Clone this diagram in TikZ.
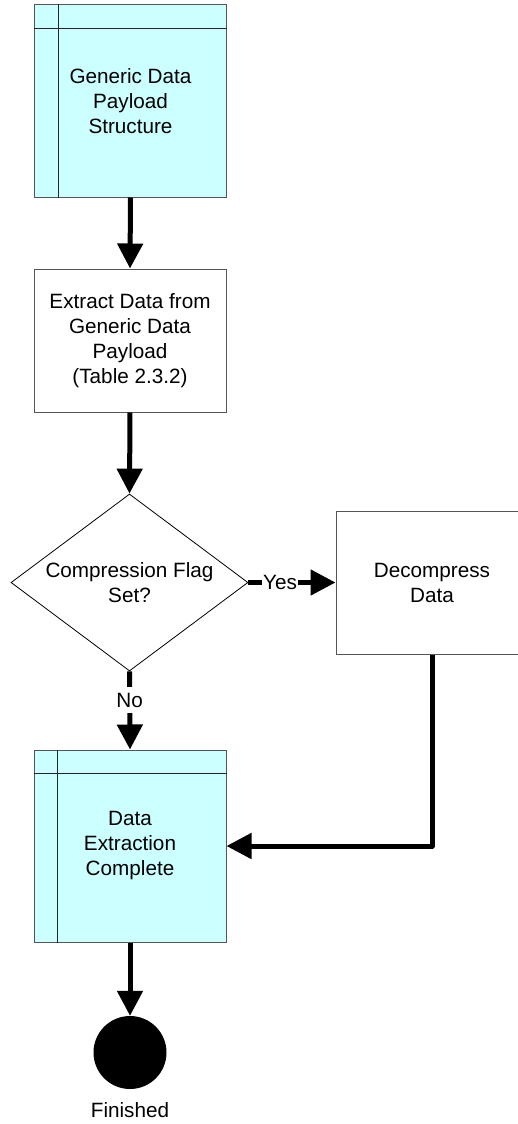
\documentclass[tikz,border=0pt]{standalone}
\usepackage{fontspec}
\setmainfont{Liberation Sans}
\usetikzlibrary{arrows.meta,shapes.geometric,calc}
\definecolor{lanefill}{HTML}{CCFFFF}
\definecolor{edgegray}{HTML}{555555}
\tikzset{
  txt/.style={font=\fontsize{20.7}{25}\selectfont, align=center, inner sep=0pt},
  procbox/.style={txt, draw=edgegray, line width=1pt, minimum width=192pt, minimum height=143pt},
  lanebox/.style={txt, draw=edgegray, line width=1pt, fill=lanefill, minimum width=192pt, minimum height=192pt},
  decision/.style={diamond, draw=black, line width=0.8pt, inner sep=0pt, minimum width=237pt, minimum height=177pt},
  endstate/.style={circle, fill=black, inner sep=0pt, minimum size=73pt},
  flow/.style={line width=5pt, -{Triangle[length=25pt,width=25pt]}, line join=round},
  lbl/.style={txt, fill=white, inner xsep=1pt, inner ysep=6pt},
  laneline/.style={draw=black!85, line width=0.8pt}
}
\begin{document}
\begin{tikzpicture}[x=1pt,y=-1pt]
  \clip (0,0) rectangle (518,1124);
  \fill[white] (0,0) rectangle (518,1124);

  % nodes
  \node[lanebox] (payload) at (130.5,101) {Generic Data\\Payload\\Structure};
  \draw[laneline] ([xshift=24pt]payload.north west) -- ([xshift=24pt]payload.south west);
  \draw[laneline] ([yshift=-24pt]payload.north west) -- ([yshift=-24pt]payload.north east);

  \node[procbox] (extract) at (130,340.5) {Extract Data from\\Generic Data\\Payload\\(Table 2.3.2)};

  \node[decision] (flag) at (129.5,582.5) {};
  \node[txt] (flagtext) at (flag) {Compression Flag\\Set?};

  \node[procbox] (decomp) at (432,582.5) {Decompress\\Data};

  \node[lanebox] (complete) at (130,846) {Data\\Extraction\\Complete};
  \draw[laneline] ([xshift=24pt]complete.north west) -- ([xshift=24pt]complete.south west);
  \draw[laneline] ([yshift=-24pt]complete.north west) -- ([yshift=-24pt]complete.north east);

  \node[endstate] (done) at (130,1052.5) {};
  \node[txt] (donelabel) at (130,1110) {Finished};

  % connectors
  \draw[flow] (payload.south) -- (extract.north);
  \draw[flow] (extract.south) -- (flag.north);
  \draw[flow] (flag.east) -- node[lbl, pos=0.364] (yeslbl) {Yes} (decomp.west);
  \draw[flow] (flag.south) -- node[lbl, pos=0.367] (nolbl) {No} (complete.north);
  \draw[flow] (decomp.south) -- (decomp.south |- complete.east) -- (complete.east);
  \draw[flow] (complete.south) -- (done.north);
\end{tikzpicture}
\end{document}
